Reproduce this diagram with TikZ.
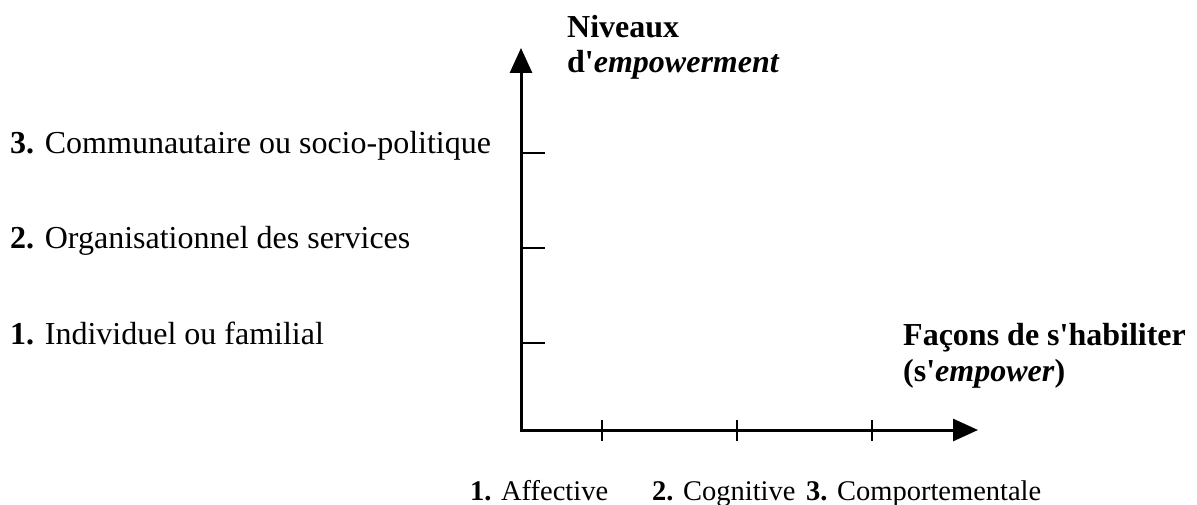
\documentclass[tikz,border=0pt]{standalone}
\usepackage{fontspec}
\setmainfont{Liberation Serif}
\usetikzlibrary{arrows.meta}
\newcommand{\sq}{\textquotesingle}
\begin{document}
\begin{tikzpicture}[x=1pt,y=-1pt,
  lbl/.style={anchor=base west, inner sep=0pt, font=\fontsize{32}{36}\selectfont},
  blbl/.style={anchor=base west, inner sep=0pt, font=\fontsize{28.5}{32}\selectfont},
  axis/.style={line width=3pt, -{Triangle[length=25pt,width=22pt]}},
  tickmark/.style={line width=1.3pt}]
\useasboundingbox (0,0) rectangle (1197,505);
\coordinate (origin) at (521,430);
\coordinate (ytip) at (521,48);
\coordinate (xtip) at (978,430);
\draw[axis] ([yshift=-1.5pt]origin) -- (ytip);
\draw[axis] ([xshift=-1.5pt]origin) -- (xtip);
% y ticks
\coordinate (ya) at (521,153); \coordinate (yb) at (521,248); \coordinate (yc) at (521,343);
\draw[tickmark] (ya) -- ++(24,0);
\draw[tickmark] (yb) -- ++(24,0);
\draw[tickmark] (yc) -- ++(24,0);
% x ticks
\coordinate (xa) at (602,430); \coordinate (xb) at (737,430); \coordinate (xc) at (872,430);
\draw[tickmark] ([yshift=10pt]xa) -- ++(0,21);
\draw[tickmark] ([yshift=10pt]xb) -- ++(0,21);
\draw[tickmark] ([yshift=10pt]xc) -- ++(0,21);
% labels
\node[lbl] (niv1) at (567,38) {\textbf{Niveaux}};
\node[lbl] (niv2) at (567,73) {\textbf{d\sq\textit{empowerment}}};
\node[lbl] (l3) at (10,154) {\textbf{3.} Communautaire ou socio-politique};
\node[lbl] (l2) at (10,249) {\textbf{2.} Organisationnel des services};
\node[lbl] (l1) at (10,344) {\textbf{1.} Individuel ou familial};
\node[lbl] (f1) at (903,345) {\textbf{Façons de s\sq habiliter}};
\node[lbl] (f2) at (903,381) {\textbf{(s\sq\textit{empower})}};
\node[blbl] (b1) at (470,500) {\textbf{1.} Affective};
\node[blbl] (b2) at (652,500) {\textbf{2.} Cognitive};
\node[blbl] (b3) at (806,500) {\textbf{3.} Comportementale};
\end{tikzpicture}
\end{document}
